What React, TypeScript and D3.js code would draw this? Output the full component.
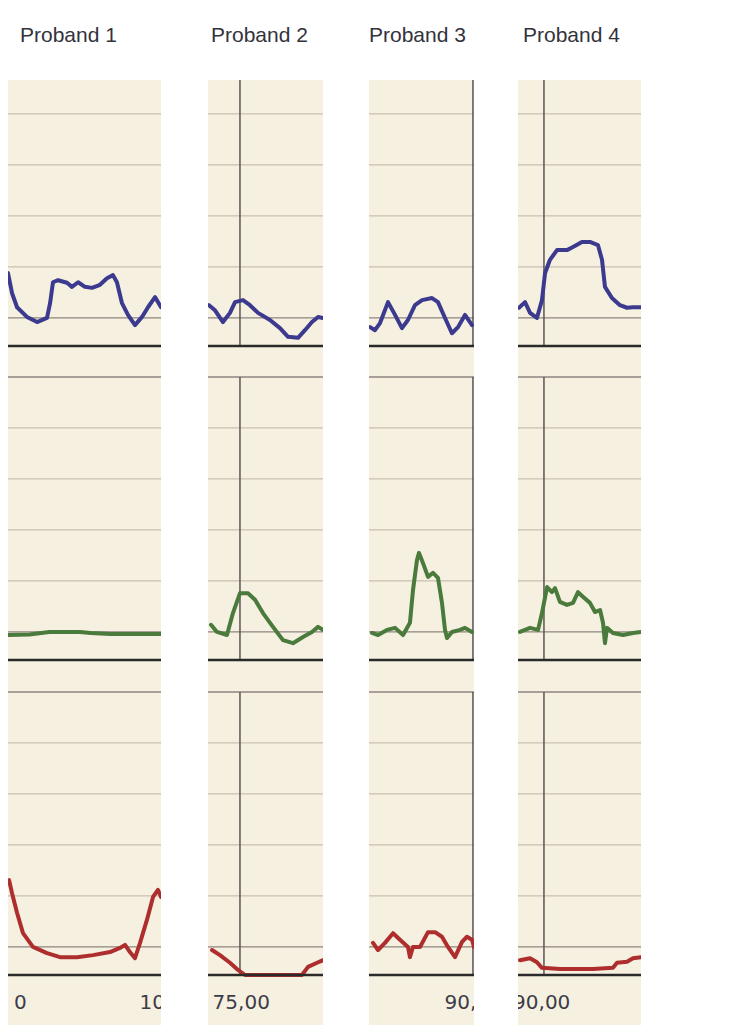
import React from "react";
import * as d3 from "d3";

// ---------- data ----------
const probands = ["Proband 1", "Proband 2", "Proband 3", "Proband 4"];
const gridValues = [10, 20, 30, 40, 50, 60];
const yMin = 4.5;
const yMax = 60;

type P = [number, number];

// top section (blue)
const blue1: P[] = [[0,18.8],[2.6,14.9],[5.9,12.1],[12.4,10.2],[19,9.2],[25.5,10],[27.5,12.9],[29.4,17],[32.7,17.4],[38.6,16.9],[41.8,16.1],[45.8,17],[50.3,16.1],[54.9,15.9],[60.1,16.5],[64.7,17.8],[68.6,18.4],[71.2,17],[74.5,12.9],[78.4,10.6],[83,8.6],[87.6,10.2],[91.5,12.1],[96.1,14.1],[100,12.1]];
const blue2: P[] = [[0.9,12.5],[6.1,11.5],[13,9.2],[19.1,11],[23.5,13.1],[30.4,13.5],[36.5,12.5],[43.5,11],[53.9,9.6],[62.6,8],[69.6,6.3],[78.3,6.1],[84.3,7.6],[90.4,9.2],[95.7,10.2],[100,10]];
const blue3: P[] = [[1,8.2],[5.7,7.6],[10.5,9],[18.1,13.1],[24.8,10.6],[31.4,8],[37.1,9.6],[43.8,12.5],[50.5,13.5],[60,13.9],[65.7,13.1],[72.4,10],[79,7],[84.8,8.2],[91.4,10.6],[98.1,8.6]];
const blue4: P[] = [[0.8,12],[5.7,13.1],[9.8,11],[15.4,10],[19.5,13.5],[22,18.8],[26,21.4],[31.7,23.3],[39.8,23.3],[44.7,23.9],[52,24.9],[58.5,24.9],[65,24.3],[68.3,21.4],[70.7,16.1],[76.4,13.9],[82.9,12.5],[88.6,12],[93.5,12.1],[100,12.1]];

// middle section (green)
const green1: P[] = [[0,9.4],[14,9.5],[27,10],[47,10],[54,9.8],[67,9.6],[86,9.6],[100,9.6]];
const green2: P[] = [[2.6,11.4],[7.8,10],[16.5,9.4],[21.7,13.7],[27.8,17.6],[34.8,17.6],[40.9,16.3],[47.8,13.7],[56.5,11],[65.2,8.4],[73.9,7.8],[82.6,9],[90.4,10],[95.7,11],[100,10.4]];
const green3: P[] = [[2.9,9.8],[8.6,9.4],[17.1,10.4],[24.8,10.8],[32.4,9.4],[39,11.8],[41.9,18.2],[45.7,24.1],[47.6,25.5],[51.4,23.5],[56.2,20.8],[61,21.6],[65.7,20.6],[69.5,15.7],[72.4,10.4],[74.3,8.8],[79,10],[86.7,10.4],[91.4,10.8],[98.1,10]];
const green4: P[] = [[1.6,10],[9.8,10.8],[16.3,10.4],[19.5,13.7],[23.6,18.8],[27.6,17.8],[30.1,18.6],[34.1,15.9],[39.8,15.3],[44.7,15.7],[48.8,17.8],[52.8,16.9],[58.5,15.7],[62.6,13.9],[66.7,14.3],[69.1,11.8],[70.7,7.8],[72.4,10.8],[77.2,9.8],[85.4,9.4],[93.5,9.8],[100,10]];

// bottom section (red)
const red1: P[] = [[0.7,23.1],[2.6,20.6],[5.9,16.7],[9.8,12.7],[16.3,10],[25.5,8.8],[34,8],[45.1,8],[55.6,8.4],[66.7,9],[73.2,9.8],[76.5,10.4],[79.7,9],[83,7.8],[86.3,10.8],[90.8,15.3],[94.8,19.8],[98,21.2],[100,19.8]];
const red2: P[] = [[3.5,9.4],[10.4,8.4],[19.1,6.9],[26.1,5.5],[32.2,4.5],[53.9,4.5],[81.7,4.5],[87,6.1],[94.8,6.9],[100,7.4]];
const red3: P[] = [[3.8,10.8],[8.6,9.4],[15.2,10.8],[22.9,12.7],[29.5,11.4],[37.1,10],[39,8],[41.9,10],[48.6,10],[56.2,12.9],[62.9,12.9],[69.5,12],[75.2,10],[81.9,8],[88.6,11],[93.3,12],[98.1,11.4],[100,10]];
const red4: P[] = [[1.6,7.4],[9.8,7.8],[15.4,7],[19.5,5.9],[34.1,5.7],[61,5.7],[77.2,5.9],[80.5,6.9],[88.6,7.1],[93.5,7.8],[100,8]];

const markerT: (number | null)[] = [null, 27.8, 99, 21.1];

const tickLabels: { text: string; t: number }[][] = [
  [{ text: "0", t: 4 }, { text: "105", t: 86 }],
  [{ text: "75,00", t: 4 }],
  [{ text: "90,00", t: 72 }],
  [{ text: "90,00", t: -4 }],
];

const seriesBySection: P[][][] = [
  [blue1, blue2, blue3, blue4],
  [green1, green2, green3, green4],
  [red1, red2, red3, red4],
];
const sectionColors = ["#3b3a8e", "#4a7a3c", "#ae2e2e"];

// ---------- layout ----------
const W = 737;
const H = 1025;
const panelX: [number, number][] = [[8, 161], [208, 323], [369, 474], [518, 641]];
const titleX = [20, 211, 369, 523];
const sectionBase = [346, 660, 975];
const pxPerUnit = 5.1;
const panelTop = 80;

export default function App() {
  const line = (xs: d3.ScaleLinear<number, number>, ys: d3.ScaleLinear<number, number>) =>
    d3.line<P>().x((d) => xs(d[0])).y((d) => ys(Math.max(yMin, d[1])));

  return (
    <div style={{ position: "absolute", left: 0, top: 0 }}>
      <svg width={W} height={H} style={{ display: "block", background: "#ffffff" }}>
        <defs>
          {panelX.map(([x0, x1], i) => (
            <clipPath id={`clip${i}`} key={i}>
              <rect x={x0} y={panelTop} width={x1 - x0} height={H - panelTop} />
            </clipPath>
          ))}
        </defs>
        {probands.map((name, i) => (
          <text key={name} x={titleX[i]} y={42} fontFamily="'Liberation Sans', Arial, sans-serif" fontSize={21} fill="#33333c">
            {name}
          </text>
        ))}
        {panelX.map(([x0, x1], pi) => {
          const xs = d3.scaleLinear().domain([0, 100]).range([x0, x1]);
          return (
            <g key={pi} clipPath={`url(#clip${pi})`}>
              <rect x={x0} y={panelTop} width={x1 - x0} height={H - panelTop} fill="#f6f0e0" />
              {sectionBase.map((base, si) => {
                const ys = d3.scaleLinear().domain([yMin, yMax]).range([base, base - (yMax - yMin) * pxPerUnit]);
                const top = ys(yMax);
                const mt = markerT[pi];
                return (
                  <g key={si}>
                    {gridValues.map((g) => (
                      <line key={g} x1={x0} x2={x1} y1={ys(g)} y2={ys(g)}
                        stroke={g === 10 || g === 60 ? "#8c8580" : "#c9bfb2"} strokeWidth={g === 60 ? 1.5 : 1.2} />
                    ))}
                    {mt !== null && (
                      <line x1={xs(mt)} x2={xs(mt)} y1={Math.max(top, panelTop)} y2={base} stroke="#5a5458" strokeWidth={1.5} />
                    )}
                    <path d={line(xs, ys)(seriesBySection[si][pi]) || ""} fill="none"
                      stroke={sectionColors[si]} strokeWidth={4} strokeLinejoin="round" strokeLinecap="round" />
                    <line x1={x0} x2={x1} y1={base} y2={base} stroke="#2a2a2a" strokeWidth={2.4} />
                  </g>
                );
              })}
              {tickLabels[pi].map((lab, li) => (
                <text key={li} x={xs(lab.t)} y={1009} fontFamily="'DejaVu Sans', Verdana, sans-serif" fontSize={20} fill="#3c3c48">
                  {lab.text}
                </text>
              ))}
            </g>
          );
        })}
      </svg>
    </div>
  );
}
